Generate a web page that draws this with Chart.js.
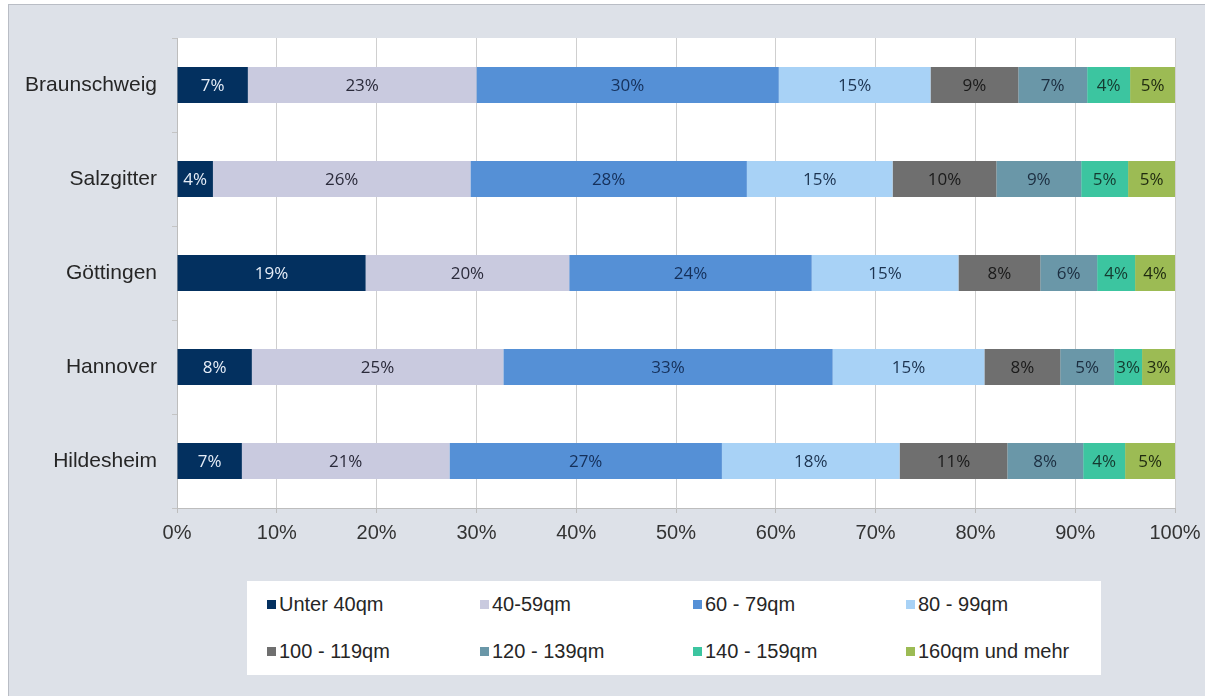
<!DOCTYPE html>
<html lang="de">
<head>
<meta charset="utf-8">
<title>Wohnungsgrößen</title>
<script src="https://cdn.jsdelivr.net/npm/chart.js@4.4.1/dist/chart.umd.min.js"></script>
<style>
    html, body {
        margin: 0;
        padding: 0;
        width: 1205px;
        height: 696px;
        background: #ffffff;
        overflow: hidden;
    }
    .frame {
        position: absolute;
        left: 8px;
        top: 4px;
        right: 0;
        bottom: 0;
        background: #dde1e8;
        border-top: 1px solid #b9bdc5;
        border-left: 1px solid #b9bdc5;
    }
    .chart-box {
        position: absolute;
        left: 0;
        top: 0;
        width: 1205px;
        height: 560px;
    }
    .legend {
        position: absolute;
        left: 247px;
        top: 581px;
        width: 854px;
        height: 94px;
        background: #ffffff;
        box-sizing: border-box;
        padding-left: 20px;
        display: grid;
        grid-template-columns: repeat(4, 213px);
        grid-auto-rows: 47px;
        align-items: center;
        font-family: "Liberation Sans", Arial, sans-serif;
        font-size: 20px;
        color: #262626;
    }
    .legend-item {
        display: flex;
        align-items: center;
        white-space: nowrap;
    }
    .legend-item span.box {
        display: inline-block;
        width: 9px;
        height: 9px;
        margin-right: 3px;
    }
</style>
</head>
<body>
<div class="frame"></div>
<div class="chart-box"><canvas id="sizeChart"></canvas></div>
<div class="legend" id="legend"></div>

<script>
// Städte (Kategorien)
const cities = ['Braunschweig', 'Salzgitter', 'Göttingen', 'Hannover', 'Hildesheim'];

// Größenklassen
const sizeClasses = ['Unter 40qm', '40-59qm', '60 - 79qm', '80 - 99qm',
    '100 - 119qm', '120 - 139qm', '140 - 159qm', '160qm und mehr'];

// Anteile je Größenklasse (in %, Reihenfolge wie cities)
const under40 = [7.1, 3.6, 18.9, 7.5, 6.5];
const qm40to59 = [22.9, 25.8, 20.4, 25.2, 20.8];
const qm60to79 = [30.3, 27.7, 24.3, 33.0, 27.3];
const qm80to99 = [15.2, 14.6, 14.7, 15.2, 17.8];
const qm100to119 = [8.8, 10.4, 8.2, 7.6, 10.8];
const qm120to139 = [6.9, 8.5, 5.7, 5.4, 7.6];
const qm140to159 = [4.3, 4.7, 3.8, 2.8, 4.2];
const qm160plus = [4.5, 4.7, 4.0, 3.3, 5.0];

// Achsenbeschriftungen
const xTicks = [0, 10, 20, 30, 40, 50, 60, 70, 80, 90, 100];

const seriesValues = [under40, qm40to59, qm60to79, qm80to99,
    qm100to119, qm120to139, qm140to159, qm160plus];
const colors = ['#03305f', '#c9cadf', '#5590d6', '#a8d2f6',
    '#6f6f6f', '#6a97a8', '#3cc5a0', '#9cbb54'];
const labelColors = ['#e6edf7', '#2a2a3a', '#15305a', '#1c3350',
    '#1a1a1a', '#1c2e40', '#153a30', '#1f2a10'];

// Hintergrund der Zeichenfläche
const plotBackground = {
    id: 'plotBackground',
    beforeDraw(chart) {
        const { ctx, chartArea } = chart;
        ctx.save();
        ctx.fillStyle = '#ffffff';
        ctx.fillRect(chartArea.left, chartArea.top,
            chartArea.right - chartArea.left, chartArea.bottom - chartArea.top);
        ctx.restore();
    }
};

// Prozentwerte in die Balken schreiben
const barLabels = {
    id: 'barLabels',
    afterDatasetsDraw(chart) {
        const ctx = chart.ctx;
        ctx.save();
        ctx.font = '17px "Open Sans", sans-serif';
        ctx.textAlign = 'center';
        ctx.textBaseline = 'middle';
        chart.data.datasets.forEach((ds, i) => {
            const meta = chart.getDatasetMeta(i);
            meta.data.forEach((bar, j) => {
                const cx = (bar.x + bar.base) / 2;
                ctx.fillStyle = labelColors[i];
                ctx.fillText(Math.round(ds.data[j]) + '%', cx, bar.y + 1);
            });
        });
        ctx.restore();
    }
};

const datasets = sizeClasses.map((label, i) => ({
    label: label,
    data: seriesValues[i],
    backgroundColor: colors[i],
    borderWidth: 0,
    barPercentage: 0.385,
    categoryPercentage: 1.0
}));

const chart = new Chart(document.getElementById('sizeChart'), {
    type: 'bar',
    data: {
        labels: cities,
        datasets: datasets
    },
    options: {
        indexAxis: 'y',
        responsive: true,
        maintainAspectRatio: false,
        animation: false,
        layout: {
            padding: { left: 0, top: 38, right: 30, bottom: 0 }
        },
        scales: {
            x: {
                stacked: true,
                min: 0,
                max: 100,
                afterBuildTicks: function (scale) {
                    scale.ticks = xTicks.map(v => ({ value: v }));
                },
                afterFit: function (scale) {
                    scale.height = 52;
                    // Randabstand der Beschriftung nicht zusätzlich einrechnen
                    scale.paddingLeft = 0;
                    scale.paddingRight = 0;
                },
                grid: {
                    color: '#cfcfcf',
                    lineWidth: 1,
                    drawTicks: true,
                    tickLength: 5,
                    tickColor: '#bdbdbd'
                },
                border: {
                    display: true,
                    color: '#bdbdbd'
                },
                ticks: {
                    padding: 8,
                    color: '#333333',
                    font: { family: '"Liberation Sans", Arial, sans-serif', size: 20 },
                    callback: function (value) {
                        return value + '%';
                    }
                }
            },
            y: {
                stacked: true,
                afterFit: function (scale) {
                    scale.width = 177;
                },
                grid: {
                    offset: true,
                    drawOnChartArea: false,
                    drawTicks: true,
                    tickLength: 5,
                    tickColor: '#c4c4c4'
                },
                border: {
                    display: true,
                    color: '#bdbdbd'
                },
                ticks: {
                    padding: 15,
                    color: '#262626',
                    font: { family: '"Liberation Sans", Arial, sans-serif', size: 21 }
                }
            }
        },
        plugins: {
            legend: { display: false },
            tooltip: { enabled: false }
        }
    },
    plugins: [plotBackground, barLabels]
});

// HTML-Legende aus den Datensätzen erzeugen
const legendEl = document.getElementById('legend');
chart.data.datasets.forEach(ds => {
    const item = document.createElement('div');
    item.className = 'legend-item';
    const box = document.createElement('span');
    box.className = 'box';
    box.style.background = ds.backgroundColor;
    item.appendChild(box);
    item.appendChild(document.createTextNode(ds.label));
    legendEl.appendChild(item);
});
</script>
</body>
</html>
